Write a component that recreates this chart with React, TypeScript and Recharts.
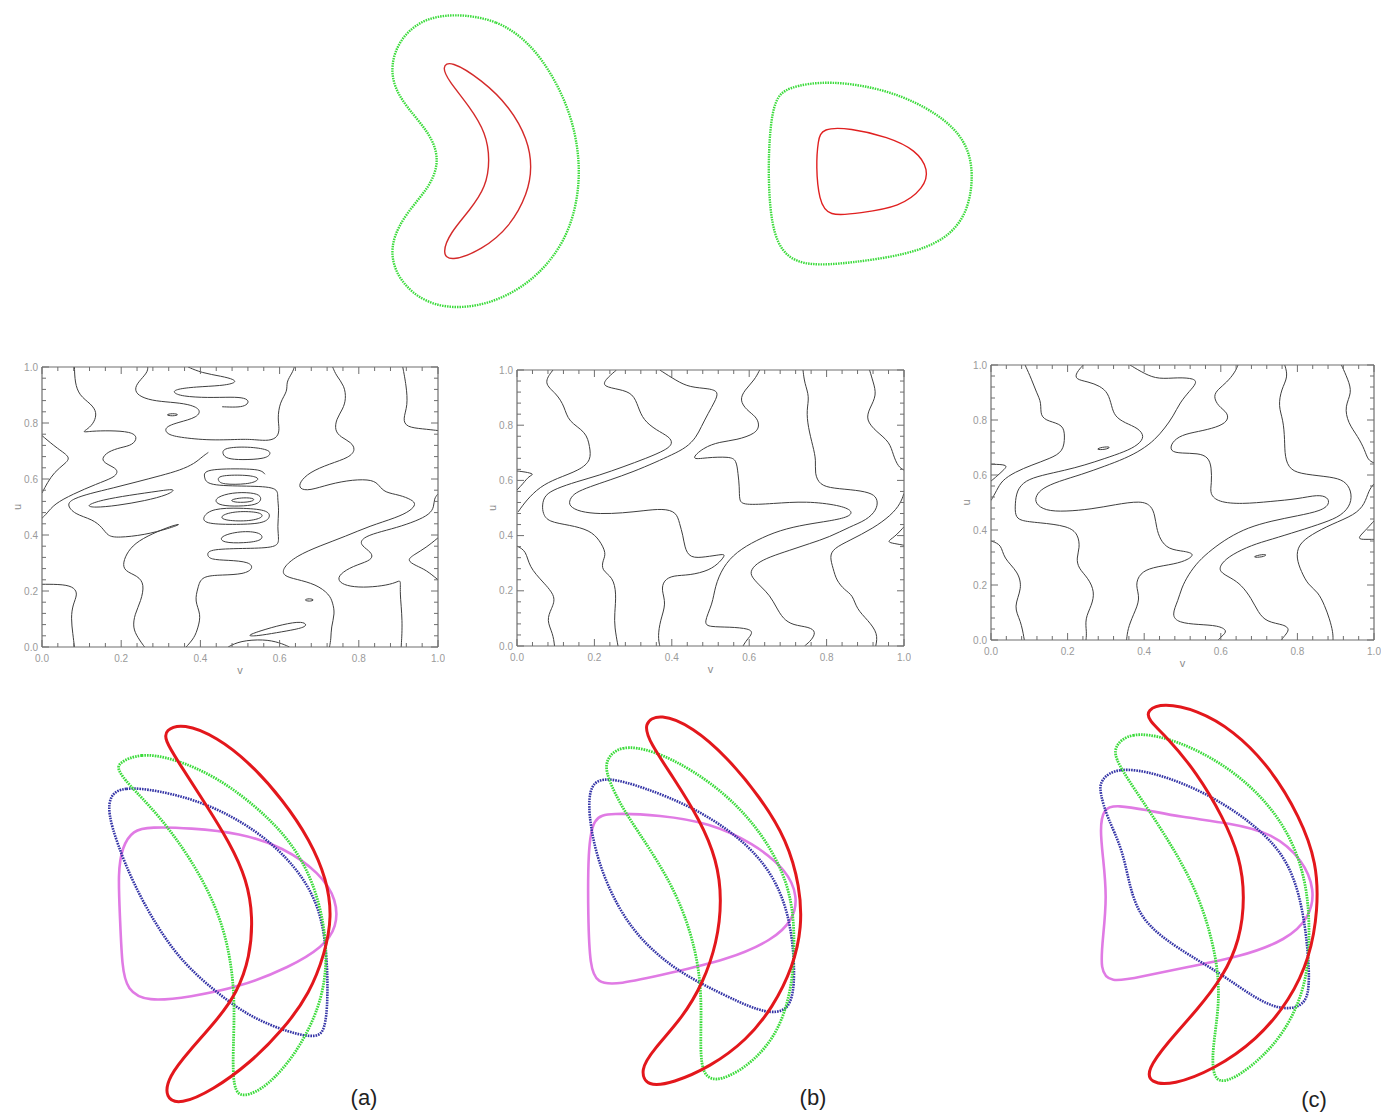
import React from "react";
import { ComposedChart, Line, XAxis, YAxis, Label } from "recharts";

type Pt = [number, number];

// ---------- panel 1 contours (v, u) ----------
const p1LeftBump: Pt[] = [[0, 0.755], [0.04, 0.707], [0.074, 0.677], [0.057, 0.654], [0.031, 0.624], [0.014, 0.588], [0, 0.55]];
const p1Upper: Pt[] = [[0.082, 1], [0.083, 0.945], [0.094, 0.898], [0.124, 0.868], [0.139, 0.838], [0.132, 0.802], [0.116, 0.779], [0.1, 0.766], [0.125, 0.771], [0.17, 0.773], [0.225, 0.769], [0.242, 0.749], [0.229, 0.721], [0.2, 0.713], [0.166, 0.698], [0.149, 0.671], [0.162, 0.654], [0.187, 0.638], [0.191, 0.624], [0.183, 0.606], [0.137, 0.582], [0.078, 0.546], [0.031, 0.511], [0.012, 0.476], [0, 0.46]];
const p1TopU: Pt[] = [[0.267, 1], [0.267, 0.981], [0.242, 0.945], [0.234, 0.921], [0.242, 0.898], [0.276, 0.88], [0.326, 0.874], [0.368, 0.868], [0.402, 0.85], [0.394, 0.82], [0.343, 0.802], [0.309, 0.785], [0.314, 0.761], [0.343, 0.749], [0.427, 0.737], [0.51, 0.743], [0.54, 0.74], [0.574, 0.736], [0.595, 0.749], [0.6, 0.779], [0.595, 0.814], [0.6, 0.874], [0.621, 0.915], [0.616, 0.945], [0.633, 0.981], [0.637, 1]];
const p1TopTongue: Pt[] = [[0.369, 1], [0.403, 0.979], [0.454, 0.967], [0.487, 0.955], [0.489, 0.943], [0.454, 0.933], [0.386, 0.929], [0.34, 0.921], [0.329, 0.91], [0.352, 0.895], [0.42, 0.89], [0.479, 0.893], [0.513, 0.89], [0.524, 0.876], [0.513, 0.86], [0.49, 0.856], [0.455, 0.858]];
const p1RightTop: Pt[] = [[0.911, 1], [0.92, 0.933], [0.924, 0.862], [0.911, 0.814], [0.92, 0.785], [0.962, 0.779], [1, 0.773]];
const p1Band75: Pt[] = [[0.734, 1], [0.743, 0.969], [0.764, 0.933], [0.768, 0.886], [0.76, 0.85], [0.743, 0.814], [0.739, 0.773], [0.755, 0.749], [0.781, 0.731], [0.792, 0.705], [0.777, 0.677], [0.726, 0.654], [0.675, 0.624], [0.65, 0.588], [0.65, 0.564], [0.675, 0.558], [0.726, 0.582], [0.785, 0.598], [0.836, 0.598], [0.852, 0.576], [0.865, 0.552], [0.903, 0.543], [0.934, 0.526], [0.945, 0.51], [0.93, 0.486], [0.895, 0.462], [0.827, 0.432], [0.768, 0.396], [0.701, 0.361], [0.642, 0.325], [0.608, 0.283], [0.608, 0.254], [0.642, 0.242], [0.692, 0.224], [0.726, 0.188], [0.734, 0.158], [0.74, 0.12], [0.73, 0.07], [0.73, 0.03], [0.726, 0]];
const p1Band90: Pt[] = [[1, 0.547], [0.99, 0.53], [0.99, 0.5], [0.979, 0.474], [0.945, 0.45], [0.895, 0.426], [0.844, 0.408], [0.81, 0.39], [0.802, 0.367], [0.827, 0.343], [0.836, 0.325], [0.827, 0.307], [0.785, 0.289], [0.751, 0.26], [0.747, 0.236], [0.768, 0.218], [0.81, 0.212], [0.861, 0.218], [0.895, 0.23], [0.907, 0.242], [0.903, 0.2], [0.911, 0.093], [0.907, 0]];
const p1RightEdge: Pt[] = [[1, 0.39], [0.97, 0.355], [0.94, 0.33], [0.92, 0.31], [0.945, 0.29], [0.97, 0.275], [1, 0.24]];
const p1Band: Pt[] = [[0.42, 0.695], [0.405, 0.68], [0.385, 0.655], [0.35, 0.632], [0.3, 0.612], [0.24, 0.59], [0.18, 0.568], [0.12, 0.548], [0.08, 0.53], [0.061, 0.51], [0.082, 0.474], [0.128, 0.456], [0.153, 0.426], [0.166, 0.396], [0.191, 0.39], [0.259, 0.4], [0.322, 0.424], [0.352, 0.44], [0.335, 0.436], [0.293, 0.414], [0.242, 0.379], [0.217, 0.343], [0.204, 0.301], [0.208, 0.271], [0.242, 0.254], [0.259, 0.224], [0.25, 0.164], [0.234, 0.117], [0.229, 0.069], [0.242, 0.033], [0.259, 0]];
const p1Center: Pt[] = [[0.364, 0], [0.385, 0.033], [0.394, 0.069], [0.402, 0.117], [0.385, 0.164], [0.394, 0.212], [0.402, 0.254], [0.456, 0.257], [0.51, 0.26], [0.534, 0.28], [0.525, 0.304], [0.47, 0.31], [0.424, 0.312], [0.416, 0.331], [0.424, 0.35], [0.521, 0.352], [0.593, 0.355], [0.599, 0.381], [0.594, 0.429], [0.599, 0.488], [0.594, 0.536], [0.597, 0.571], [0.521, 0.575], [0.416, 0.576], [0.41, 0.607], [0.408, 0.636], [0.521, 0.637], [0.555, 0.631], [0.563, 0.617]];
const p1LeftLow: Pt[] = [[0, 0.224], [0.056, 0.224], [0.082, 0.212], [0.09, 0.188], [0.078, 0.152], [0.073, 0.105], [0.078, 0.045], [0.082, 0]];
const p1BottomArch: Pt[] = [[0.47, 0], [0.5, 0.022], [0.56, 0.028], [0.6, 0.016], [0.625, 0]];
const p1LoopTop: Pt[] = [[0.458, 0.712], [0.521, 0.716], [0.574, 0.705], [0.578, 0.688], [0.563, 0.672], [0.504, 0.668], [0.466, 0.672], [0.455, 0.69]];
const p1LoopA: Pt[] = [[0.445, 0.613], [0.512, 0.615], [0.545, 0.607], [0.547, 0.595], [0.521, 0.581], [0.454, 0.58], [0.444, 0.595]];
const p1LoopB: Pt[] = [[0.44, 0.535], [0.48, 0.552], [0.53, 0.552], [0.556, 0.54], [0.55, 0.51], [0.51, 0.503], [0.46, 0.503], [0.437, 0.515]];
const p1LoopBIn: Pt[] = [[0.47, 0.525], [0.51, 0.535], [0.54, 0.53], [0.53, 0.518], [0.49, 0.515]];
const p1LoopC: Pt[] = [[0.405, 0.465], [0.43, 0.495], [0.5, 0.497], [0.57, 0.49], [0.578, 0.465], [0.56, 0.44], [0.48, 0.437], [0.41, 0.44]];
const p1LoopCIn: Pt[] = [[0.45, 0.47], [0.49, 0.486], [0.555, 0.482], [0.56, 0.462], [0.52, 0.448], [0.455, 0.452]];
const p1LoopD: Pt[] = [[0.447, 0.395], [0.5, 0.415], [0.555, 0.41], [0.56, 0.38], [0.51, 0.371], [0.455, 0.372]];
const p1Tongue: Pt[] = [[0.11, 0.505], [0.15, 0.525], [0.22, 0.542], [0.3, 0.558], [0.34, 0.566], [0.32, 0.544], [0.26, 0.522], [0.19, 0.505], [0.13, 0.497]];
const p1OvalA: Pt[] = [[0.31, 0.829], [0.33, 0.835], [0.348, 0.83], [0.33, 0.824]];
const p1OvalB: Pt[] = [[0.66, 0.168], [0.675, 0.174], [0.69, 0.168], [0.675, 0.162]];
const p1LoopLow: Pt[] = [[0.515, 0.039], [0.549, 0.057], [0.608, 0.081], [0.659, 0.093], [0.672, 0.075], [0.642, 0.063], [0.592, 0.051], [0.542, 0.039]];

// ---------- panel 2 contours ----------
const p2a: Pt[] = [[0.093, 1], [0.067, 0.952], [0.102, 0.915], [0.123, 0.867], [0.132, 0.813], [0.179, 0.776], [0.188, 0.722], [0.192, 0.673], [0.162, 0.637], [0.102, 0.607], [0.059, 0.577], [0.024, 0.528], [0.003, 0.486]];
const p2b: Pt[] = [[0, 0.565], [0.016, 0.589], [0.031, 0.616], [0.046, 0.623], [0.02, 0.631], [0, 0.634]];
const p2c: Pt[] = [[0.257, 1], [0.227, 0.964], [0.222, 0.94], [0.265, 0.93], [0.3, 0.915], [0.313, 0.867], [0.326, 0.819], [0.36, 0.782], [0.394, 0.758], [0.403, 0.734], [0.386, 0.711], [0.334, 0.68], [0.274, 0.649], [0.214, 0.619], [0.153, 0.595], [0.102, 0.571], [0.071, 0.547], [0.065, 0.51], [0.067, 0.48], [0.08, 0.45], [0.136, 0.438], [0.188, 0.42], [0.214, 0.383], [0.231, 0.335], [0.222, 0.311], [0.218, 0.274], [0.248, 0.25], [0.257, 0.19], [0.252, 0.117], [0.252, 0.069], [0.261, 0]];
const p2d: Pt[] = [[0.369, 1], [0.412, 0.961], [0.446, 0.937], [0.498, 0.933], [0.522, 0.921], [0.511, 0.885], [0.494, 0.843], [0.476, 0.794], [0.463, 0.756], [0.438, 0.719], [0.399, 0.692], [0.36, 0.667], [0.3, 0.631], [0.239, 0.601], [0.188, 0.577], [0.149, 0.555], [0.136, 0.531], [0.134, 0.507], [0.162, 0.486], [0.214, 0.478], [0.274, 0.482], [0.326, 0.49], [0.377, 0.498], [0.412, 0.486], [0.42, 0.444], [0.429, 0.401], [0.433, 0.359], [0.446, 0.317], [0.489, 0.323], [0.525, 0.331], [0.54, 0.333], [0.525, 0.305], [0.498, 0.274], [0.446, 0.256], [0.403, 0.256], [0.379, 0.238], [0.373, 0.202], [0.386, 0.154], [0.37, 0.093], [0.364, 0.033], [0.369, 0]];
const p2e: Pt[] = [[0.627, 1], [0.614, 0.964], [0.588, 0.927], [0.575, 0.891], [0.593, 0.855], [0.618, 0.831], [0.627, 0.801], [0.618, 0.77], [0.567, 0.746], [0.524, 0.74], [0.481, 0.719], [0.446, 0.673], [0.489, 0.683], [0.55, 0.686], [0.567, 0.674], [0.571, 0.625], [0.575, 0.577], [0.574, 0.528], [0.584, 0.51], [0.661, 0.516], [0.748, 0.525], [0.834, 0.51], [0.868, 0.49], [0.86, 0.468], [0.808, 0.453], [0.748, 0.441], [0.679, 0.42], [0.618, 0.383], [0.567, 0.341], [0.532, 0.287], [0.511, 0.214], [0.506, 0.154], [0.481, 0.081], [0.498, 0.069], [0.55, 0.069], [0.601, 0.063], [0.61, 0.047], [0.593, 0.021], [0.584, 0]];
const p2f: Pt[] = [[0.739, 1], [0.743, 0.952], [0.756, 0.903], [0.748, 0.855], [0.752, 0.794], [0.765, 0.722], [0.773, 0.673], [0.769, 0.625], [0.782, 0.583], [0.817, 0.571], [0.877, 0.565], [0.92, 0.553], [0.933, 0.528], [0.929, 0.492], [0.903, 0.456], [0.86, 0.432], [0.808, 0.395], [0.756, 0.371], [0.705, 0.347], [0.653, 0.323], [0.618, 0.299], [0.601, 0.268], [0.61, 0.244], [0.631, 0.214], [0.653, 0.184], [0.67, 0.141], [0.687, 0.099], [0.713, 0.075], [0.756, 0.069], [0.773, 0.051], [0.761, 0.021], [0.743, 0]];
const p2g: Pt[] = [[0.911, 1], [0.92, 0.958], [0.93, 0.909], [0.911, 0.861], [0.901, 0.819], [0.929, 0.776], [0.963, 0.74], [0.972, 0.692], [0.985, 0.649], [1, 0.637]];
const p2h: Pt[] = [[1, 0.553], [0.991, 0.516], [0.967, 0.474], [0.92, 0.426], [0.86, 0.383], [0.817, 0.353], [0.808, 0.323], [0.817, 0.281], [0.825, 0.238], [0.847, 0.202], [0.868, 0.184], [0.877, 0.135], [0.907, 0.093], [0.933, 0.045], [0.927, 0]];
const p2i: Pt[] = [[1, 0.432], [0.976, 0.395], [0.954, 0.377], [0.976, 0.371], [1, 0.365]];
const p2j: Pt[] = [[0, 0.362], [0.024, 0.345], [0.031, 0.287], [0.067, 0.232], [0.102, 0.178], [0.089, 0.135], [0.076, 0.093], [0.093, 0.045], [0.097, 0]];

// ---------- panel 3 contours ----------
const p3a: Pt[] = [[0.089, 1], [0.106, 0.948], [0.119, 0.899], [0.132, 0.863], [0.128, 0.814], [0.15, 0.795], [0.189, 0.783], [0.193, 0.74], [0.189, 0.685], [0.154, 0.66], [0.106, 0.636], [0.063, 0.611], [0.028, 0.58], [0.015, 0.544], [0, 0.507]];
const p3b: Pt[] = [[0, 0.639], [0.047, 0.638], [0.032, 0.617], [0.015, 0.595], [0, 0.578]];
const p3c: Pt[] = [[0.241, 1], [0.223, 0.973], [0.219, 0.948], [0.254, 0.939], [0.284, 0.924], [0.306, 0.899], [0.315, 0.85], [0.323, 0.813], [0.35, 0.789], [0.384, 0.771], [0.402, 0.74], [0.384, 0.709], [0.35, 0.685], [0.297, 0.66], [0.245, 0.636], [0.193, 0.617], [0.132, 0.599], [0.089, 0.58], [0.067, 0.544], [0.063, 0.494], [0.063, 0.452], [0.076, 0.433], [0.123, 0.427], [0.202, 0.415], [0.228, 0.384], [0.232, 0.335], [0.223, 0.298], [0.228, 0.261], [0.254, 0.225], [0.271, 0.175], [0.263, 0.126], [0.245, 0.077], [0.25, 0.028], [0.248, 0]];
const p3d: Pt[] = [[0.363, 1], [0.402, 0.967], [0.437, 0.948], [0.489, 0.955], [0.532, 0.951], [0.537, 0.934], [0.519, 0.906], [0.493, 0.863], [0.476, 0.814], [0.454, 0.771], [0.428, 0.728], [0.393, 0.691], [0.35, 0.66], [0.297, 0.632], [0.237, 0.602], [0.176, 0.577], [0.134, 0.552], [0.117, 0.525], [0.115, 0.497], [0.141, 0.47], [0.193, 0.467], [0.263, 0.476], [0.323, 0.492], [0.393, 0.507], [0.419, 0.488], [0.428, 0.452], [0.432, 0.409], [0.441, 0.366], [0.463, 0.329], [0.506, 0.323], [0.532, 0.313], [0.515, 0.292], [0.48, 0.276], [0.419, 0.264], [0.389, 0.243], [0.376, 0.2], [0.391, 0.151], [0.371, 0.09], [0.357, 0.04], [0.354, 0]];
const p3e: Pt[] = [[0.645, 1], [0.637, 0.973], [0.615, 0.936], [0.593, 0.912], [0.58, 0.887], [0.593, 0.85], [0.619, 0.826], [0.619, 0.795], [0.589, 0.773], [0.541, 0.758], [0.497, 0.746], [0.471, 0.718], [0.467, 0.685], [0.497, 0.679], [0.541, 0.679], [0.567, 0.666], [0.576, 0.629], [0.576, 0.568], [0.571, 0.531], [0.593, 0.501], [0.654, 0.494], [0.732, 0.504], [0.802, 0.513], [0.854, 0.529], [0.88, 0.519], [0.884, 0.494], [0.863, 0.47], [0.802, 0.452], [0.732, 0.433], [0.671, 0.409], [0.619, 0.372], [0.576, 0.329], [0.541, 0.286], [0.515, 0.237], [0.497, 0.188], [0.489, 0.145], [0.471, 0.09], [0.489, 0.063], [0.541, 0.056], [0.593, 0.053], [0.619, 0.034], [0.602, 0.013], [0.593, 0]];
const p3f: Pt[] = [[0.767, 1], [0.776, 0.957], [0.758, 0.912], [0.75, 0.85], [0.763, 0.801], [0.767, 0.728], [0.767, 0.666], [0.78, 0.617], [0.819, 0.602], [0.889, 0.593], [0.923, 0.58], [0.941, 0.544], [0.941, 0.494], [0.915, 0.452], [0.871, 0.427], [0.802, 0.396], [0.732, 0.366], [0.68, 0.345], [0.628, 0.31], [0.602, 0.28], [0.593, 0.249], [0.628, 0.225], [0.654, 0.2], [0.68, 0.151], [0.697, 0.102], [0.719, 0.065], [0.767, 0.056], [0.78, 0.038], [0.767, 0.016], [0.758, 0]];
const p3g: Pt[] = [[0.915, 1], [0.932, 0.948], [0.943, 0.899], [0.923, 0.85], [0.932, 0.789], [0.958, 0.74], [0.976, 0.691], [0.984, 0.654], [1, 0.644]];
const p3h: Pt[] = [[1, 0.568], [0.986, 0.544], [0.976, 0.494], [0.95, 0.455], [0.889, 0.421], [0.837, 0.384], [0.802, 0.347], [0.797, 0.298], [0.81, 0.249], [0.828, 0.2], [0.854, 0.175], [0.871, 0.126], [0.884, 0.077], [0.893, 0.028], [0.893, 0]];
const p3i: Pt[] = [[1, 0.433], [0.976, 0.396], [0.954, 0.366], [0.98, 0.366], [1, 0.366]];
const p3j: Pt[] = [[0, 0.36], [0.028, 0.347], [0.032, 0.298], [0.071, 0.249], [0.082, 0.188], [0.058, 0.12], [0.078, 0.071], [0.087, 0]];
const p3OvalA: Pt[] = [[0.271, 0.692], [0.29, 0.702], [0.315, 0.703], [0.3, 0.692]];
const p3OvalB: Pt[] = [[0.68, 0.3], [0.7, 0.31], [0.723, 0.312], [0.71, 0.301]];

// ---------- outline shapes (figure plane coordinates) ----------
const kidneyOuter: Pt[] = [[454, 13], [498, 20], [530, 43], [554, 77], [572, 117], [580, 160], [578, 200], [566, 240], [538, 277], [498, 302], [454, 310], [418, 300], [394, 273], [390, 243], [406, 213], [430, 187], [440, 160], [430, 133], [406, 107], [390, 80], [394, 47], [418, 20]];
const kidneyInner: Pt[] = [[450, 60], [482, 80], [510, 107], [528, 140], [532, 167], [528, 193], [510, 227], [482, 250], [450, 262], [442, 253], [450, 233], [470, 210], [486, 187], [490, 160], [486, 133], [470, 107], [448, 80], [442, 67]];
const dOuter: Pt[] = [[786, 87], [830, 80], [890, 90], [938, 113], [966, 140], [974, 173], [968, 213], [946, 240], [906, 255], [850, 263], [810, 266], [784, 257], [771, 227], [768, 173], [770, 127], [775, 100]];
const dInner: Pt[] = [[822, 128], [850, 128], [888, 137], [916, 150], [929, 170], [924, 188], [900, 207], [860, 213], [828, 217], [819, 200], [816, 167], [818, 140]];

const redA: Pt[] = [[165, 730], [183, 723], [217, 737], [250, 763], [283, 800], [310, 840], [327, 880], [332, 917], [325, 953], [310, 993], [283, 1030], [250, 1063], [213, 1090], [180, 1105], [165, 1098], [168, 1077], [190, 1050], [217, 1020], [237, 993], [250, 957], [253, 917], [247, 880], [230, 843], [203, 800], [177, 760], [165, 740]];
const greenA: Pt[] = [[118, 763], [140, 753], [173, 758], [217, 777], [257, 807], [290, 840], [313, 880], [325, 927], [327, 967], [320, 1007], [297, 1053], [267, 1087], [243, 1098], [233, 1090], [233, 1050], [235, 1000], [230, 953], [217, 907], [190, 857], [157, 813], [127, 783], [118, 770]];
const blueA: Pt[] = [[110, 795], [123, 787], [157, 790], [207, 803], [257, 830], [297, 867], [320, 907], [327, 953], [328, 1000], [325, 1030], [317, 1038], [290, 1033], [250, 1017], [217, 993], [183, 963], [157, 927], [133, 883], [117, 843], [108, 813]];
const pinkA: Pt[] = [[133, 830], [150, 827], [190, 828], [240, 833], [283, 847], [320, 873], [337, 900], [337, 927], [323, 947], [290, 967], [240, 987], [190, 997], [147, 1002], [127, 990], [122, 967], [120, 917], [118, 873], [122, 847]];

const redB: Pt[] = [[643, 723], [660, 713], [693, 727], [727, 757], [760, 797], [787, 840], [800, 887], [802, 927], [793, 967], [773, 1007], [747, 1040], [710, 1067], [673, 1083], [647, 1087], [640, 1070], [653, 1050], [683, 1017], [703, 983], [717, 943], [722, 900], [717, 860], [700, 820], [673, 777], [650, 743]];
const greenB: Pt[] = [[605, 760], [620, 745], [653, 750], [693, 770], [733, 800], [767, 840], [790, 887], [795, 933], [793, 983], [780, 1030], [753, 1063], [720, 1082], [703, 1077], [700, 1050], [702, 1000], [697, 953], [680, 900], [653, 853], [623, 810], [607, 777]];
const blueB: Pt[] = [[590, 783], [607, 777], [643, 787], [693, 807], [740, 837], [773, 873], [790, 917], [795, 967], [793, 1000], [783, 1013], [760, 1012], [720, 993], [680, 973], [643, 943], [617, 907], [597, 860], [588, 813]];
const pinkB: Pt[] = [[593, 817], [610, 813], [660, 815], [710, 823], [753, 843], [787, 870], [798, 897], [793, 920], [773, 940], [727, 960], [670, 973], [617, 985], [597, 983], [590, 967], [588, 917], [588, 850]];

const redC: Pt[] = [[1147, 710], [1163, 703], [1197, 710], [1233, 730], [1270, 767], [1300, 817], [1317, 863], [1318, 910], [1310, 957], [1290, 1000], [1257, 1040], [1213, 1070], [1173, 1085], [1150, 1083], [1147, 1070], [1167, 1043], [1197, 1010], [1223, 977], [1240, 940], [1245, 897], [1240, 857], [1223, 817], [1197, 773], [1167, 737], [1148, 720]];
const greenC: Pt[] = [[1113, 747], [1130, 732], [1167, 737], [1213, 757], [1257, 790], [1290, 833], [1307, 883], [1310, 933], [1307, 983], [1287, 1030], [1257, 1063], [1227, 1083], [1213, 1080], [1212, 1050], [1220, 1003], [1217, 957], [1200, 897], [1173, 847], [1140, 797], [1117, 763]];
const blueC: Pt[] = [[1100, 780], [1117, 767], [1157, 773], [1207, 793], [1253, 823], [1287, 857], [1302, 903], [1308, 950], [1310, 990], [1303, 1007], [1280, 1010], [1253, 997], [1220, 973], [1180, 950], [1143, 923], [1130, 890], [1123, 850], [1107, 817], [1100, 793]];
const pinkC: Pt[] = [[1103, 808], [1117, 805], [1147, 810], [1180, 817], [1230, 823], [1273, 833], [1303, 860], [1315, 890], [1310, 917], [1287, 940], [1240, 957], [1187, 967], [1140, 977], [1110, 983], [1100, 970], [1103, 937], [1107, 897], [1103, 857], [1100, 830]];

const majorTicks = [0, 0.2, 0.4, 0.6, 0.8, 1.0];
const panelTags = ["(a)", "(b)", "(c)"];

const FONT = "'Liberation Sans', Arial, sans-serif";
const AXIS = "#6e6e6e";
const TICK_TEXT = "#9a9a9a";
const CONTOUR = "#3e3e3e";

const GREEN = { stroke: "#3bdb3b", strokeWidth: 2.8, strokeDasharray: "1.6 1" };
const RED = { stroke: "#e3171c", strokeWidth: 3 };
const BLUE = { stroke: "#3434a6", strokeWidth: 2.6, strokeDasharray: "1.6 1" };
const PINK = { stroke: "#e07be4", strokeWidth: 2.6 };

const allTicks = Array.from({ length: 26 }, (_, i) => Math.round(i * 4) / 100);
const isMajor = (v: number) => majorTicks.some((m) => Math.abs(m - v) < 1e-6);
const toXY = (c: Pt[]) => c.map(([x, y]) => ({ x, y }));

const BottomTick = (p: any) => {
  const m = isMajor(p.payload.value);
  return (
    <g>
      <line x1={p.x} y1={p.y} x2={p.x} y2={p.y - (m ? 7 : 4)} stroke={AXIS} />
      {m && (
        <text x={p.x} y={p.y + 15} textAnchor="middle" fontSize={10} fill={TICK_TEXT} fontFamily={FONT}>
          {p.payload.value.toFixed(1)}
        </text>
      )}
    </g>
  );
};
const TopTick = (p: any) => (
  <line x1={p.x} y1={p.y} x2={p.x} y2={p.y + (isMajor(p.payload.value) ? 7 : 4)} stroke={AXIS} />
);
const LeftTick = (p: any) => {
  const m = isMajor(p.payload.value);
  return (
    <g>
      <line x1={p.x} y1={p.y} x2={p.x + (m ? 7 : 4)} y2={p.y} stroke={AXIS} />
      {m && (
        <text x={p.x - 4} y={p.y} dy="0.35em" textAnchor="end" fontSize={10} fill={TICK_TEXT} fontFamily={FONT}>
          {p.payload.value.toFixed(1)}
        </text>
      )}
    </g>
  );
};
const RightTick = (p: any) => (
  <line x1={p.x} y1={p.y} x2={p.x - (isMajor(p.payload.value) ? 7 : 4)} y2={p.y} stroke={AXIS} />
);

type Frame = { left: number; top: number; width: number; height: number };

function ContourPlot({ frame, open, loops }: { frame: Frame; open: Pt[][]; loops: Pt[][] }) {
  const yw = 42;
  const xh = 32;
  const mt = 5;
  const mr = 6;
  const uLabel = ({ viewBox }: any) => {
    const cx = viewBox.x + viewBox.width - 25;
    const cy = viewBox.y + viewBox.height / 2;
    return (
      <text
        x={cx}
        y={cy}
        transform={`rotate(-90 ${cx} ${cy})`}
        textAnchor="middle"
        dominantBaseline="central"
        fontSize={11}
        fill="#8a8a8a"
        fontFamily={FONT}
      >
        u
      </text>
    );
  };
  return (
    <div style={{ position: "absolute", left: frame.left - yw, top: frame.top - mt - 1 }}>
      <ComposedChart
        width={frame.width + yw + 1 + mr}
        height={frame.height + xh + 1 + mt}
        margin={{ top: mt, right: mr, bottom: 0, left: 0 }}
      >
        <XAxis
          xAxisId="b"
          type="number"
          dataKey="x"
          domain={[0, 1]}
          allowDataOverflow
          ticks={allTicks}
          interval={0}
          tickSize={0}
          tickMargin={0}
          tickLine={false}
          tick={BottomTick}
          axisLine={{ stroke: AXIS, strokeWidth: 1.2 }}
          height={xh}
        >
          <Label value="v" position="insideBottom" offset={5} fill="#8a8a8a" fontSize={11} fontFamily={FONT} />
        </XAxis>
        <XAxis
          xAxisId="t"
          orientation="top"
          type="number"
          dataKey="x"
          domain={[0, 1]}
          allowDataOverflow
          ticks={allTicks}
          interval={0}
          tickSize={0}
          tickMargin={0}
          tickLine={false}
          tick={TopTick}
          axisLine={{ stroke: AXIS, strokeWidth: 1.2 }}
          height={1}
        />
        <YAxis
          yAxisId="l"
          type="number"
          domain={[0, 1]}
          allowDataOverflow
          ticks={allTicks}
          interval={0}
          tickSize={0}
          tickMargin={0}
          tickLine={false}
          tick={LeftTick}
          axisLine={{ stroke: AXIS, strokeWidth: 1.2 }}
          width={yw}
        >
          <Label content={uLabel} />
        </YAxis>
        <YAxis
          yAxisId="r"
          orientation="right"
          type="number"
          domain={[0, 1]}
          allowDataOverflow
          ticks={allTicks}
          interval={0}
          tickSize={0}
          tickMargin={0}
          tickLine={false}
          tick={RightTick}
          axisLine={{ stroke: AXIS, strokeWidth: 1.2 }}
          width={1}
        />
        {/* invisible series so the top / right frame axes get a scale */}
        <Line xAxisId="t" yAxisId="r" data={toXY([[0, 0], [1, 1]])} dataKey="y" stroke="none" dot={false} activeDot={false} isAnimationActive={false} />
        {open.map((c, i) => (
          <Line key={"o" + i} xAxisId="b" yAxisId="l" data={toXY(c)} dataKey="y" type="basis" stroke={CONTOUR} strokeWidth={1} dot={false} activeDot={false} isAnimationActive={false} />
        ))}
        {loops.map((c, i) => (
          <Line key={"c" + i} xAxisId="b" yAxisId="l" data={toXY(c)} dataKey="y" type="basisClosed" stroke={CONTOUR} strokeWidth={1} dot={false} activeDot={false} isAnimationActive={false} />
        ))}
      </ComposedChart>
    </div>
  );
}

const outlines: { pts: Pt[]; style: any }[] = [
  { pts: kidneyOuter, style: { stroke: "#3bdb3b", strokeWidth: 2.4, strokeDasharray: "1.5 1" } },
  { pts: kidneyInner, style: { stroke: "#d42a2a", strokeWidth: 1.4 } },
  { pts: dOuter, style: { stroke: "#3bdb3b", strokeWidth: 2.4, strokeDasharray: "1.5 1" } },
  { pts: dInner, style: { stroke: "#e02020", strokeWidth: 1.4 } },
  { pts: pinkA, style: PINK },
  { pts: blueA, style: BLUE },
  { pts: greenA, style: GREEN },
  { pts: redA, style: RED },
  { pts: pinkB, style: PINK },
  { pts: blueB, style: BLUE },
  { pts: greenB, style: GREEN },
  { pts: redB, style: RED },
  { pts: pinkC, style: PINK },
  { pts: blueC, style: BLUE },
  { pts: greenC, style: GREEN },
  { pts: redC, style: RED },
];

const W = 1396;
const H = 1113;

export default function App() {
  return (
    <div style={{ position: "absolute", left: 0, top: 0, width: W, height: H, background: "#fff", overflow: "hidden" }}>
      <div style={{ position: "absolute", left: 0, top: 0 }}>
        <ComposedChart width={W} height={H} margin={{ top: 0, right: 0, bottom: 0, left: 0 }}>
          <XAxis type="number" dataKey="x" domain={[0, W]} hide allowDataOverflow />
          <YAxis type="number" domain={[0, H]} reversed hide allowDataOverflow />
          {outlines.map((o, i) => (
            <Line key={i} data={toXY(o.pts)} dataKey="y" type="basisClosed" fill="none" dot={false} activeDot={false} isAnimationActive={false} {...o.style} />
          ))}
        </ComposedChart>
      </div>

      <ContourPlot
        frame={{ left: 42, top: 367, width: 396, height: 280 }}
        open={[p1LeftBump, p1Upper, p1TopU, p1TopTongue, p1RightTop, p1Band75, p1Band90, p1RightEdge, p1Band, p1Center, p1LeftLow, p1BottomArch]}
        loops={[p1LoopTop, p1LoopA, p1LoopB, p1LoopBIn, p1LoopC, p1LoopCIn, p1LoopD, p1Tongue, p1OvalA, p1OvalB, p1LoopLow]}
      />
      <ContourPlot
        frame={{ left: 517, top: 370, width: 387, height: 276 }}
        open={[p2a, p2b, p2c, p2d, p2e, p2f, p2g, p2h, p2i, p2j]}
        loops={[]}
      />
      <ContourPlot
        frame={{ left: 991, top: 365, width: 383, height: 275 }}
        open={[p3a, p3b, p3c, p3d, p3e, p3f, p3g, p3h, p3i, p3j]}
        loops={[p3OvalA, p3OvalB]}
      />

      {panelTags.map((t, i) => (
        <div
          key={t}
          style={{
            position: "absolute",
            left: [364, 813, 1314][i],
            top: [1098, 1098, 1100][i],
            transform: "translate(-50%, -50%)",
            fontFamily: "'Liberation Sans', Arial, sans-serif",
            fontSize: 22,
            color: "#222",
          }}
        >
          {t}
        </div>
      ))}
    </div>
  );
}
